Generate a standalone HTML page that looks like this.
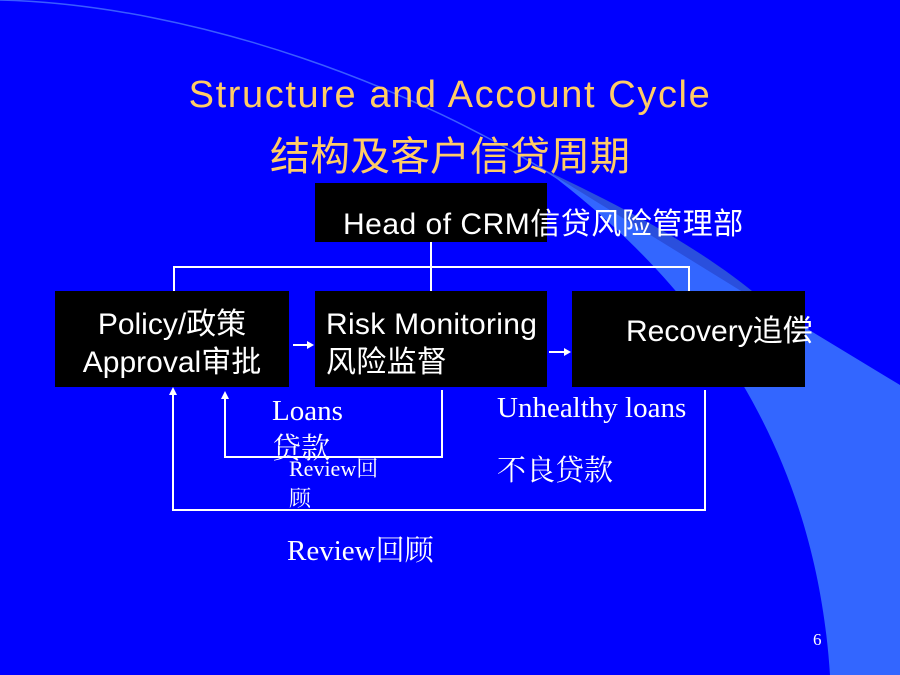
<!DOCTYPE html>
<html><head><meta charset="utf-8"><style>
body{margin:0;width:900px;height:675px;overflow:hidden;background:#0000ff;position:relative;font-family:"Liberation Sans","Noto Sans CJK SC",sans-serif}
.t{position:absolute;white-space:nowrap}
.box{position:absolute;background:#000}
.s{font-family:"Liberation Serif","Noto Serif CJK SC",serif;color:#fff;font-size:29px}
</style></head><body>
<svg width="900" height="675" style="position:absolute;left:0;top:0">
<path d="M545,170 L900,385 L900,675 L830,675 C820,520 760,330 545,170 Z" fill="#3366ff"/>
<path d="M545,170 L780,315 C720,260 650,220 545,170 Z" fill="#2a4fdd"/>
<path d="M0,0 C200,5 420,90 560,180" stroke="#3a5cff" stroke-width="1.5" fill="none"/>
<g stroke="#fff" stroke-width="2" fill="none">
<path d="M431,242 V291 M174,291 V267 H689 V291"/>
<path d="M293,345 H309 M549,352 H566"/>
<path d="M442,390 V457 H225 V398"/>
<path d="M705,390 V510 H173 V394"/>
</g>
<g fill="#fff">
<path d="M314,345 L307,341 L307,349Z"/><path d="M571,352 L564,348 L564,356Z"/>
<path d="M225,391 L221,399 L229,399Z"/><path d="M173,387 L169,395 L177,395Z"/>
</g>
</svg>
<div class="t" style="left:0;width:900px;text-align:center;top:74px;font-size:38px;color:#ffcc66;letter-spacing:1.6px">Structure and Account Cycle</div>
<div class="t" style="left:0;width:900px;text-align:center;top:124px;font-size:40px;color:#ffcc66">结构及客户信贷周期</div>
<div class="box" style="left:315px;top:183px;width:232px;height:59px"></div>
<div class="box" style="left:55px;top:291px;width:234px;height:96px"></div>
<div class="box" style="left:315px;top:291px;width:232px;height:96px"></div>
<div class="box" style="left:572px;top:291px;width:233px;height:96px"></div>
<div class="t" style="left:343px;top:199px;font-size:30px;color:#fff;letter-spacing:0.5px">Head of CRM信贷风险管理部</div>
<div class="t" style="left:55px;width:234px;text-align:center;top:306px;font-size:30px;color:#fff;line-height:38px">Policy/政策<br>Approval审批</div>
<div class="t" style="left:326px;top:306px;font-size:30px;color:#fff;line-height:38px;letter-spacing:0.3px">Risk Monitoring<br>风险监督</div>
<div class="t" style="left:626px;top:306px;font-size:30px;color:#fff">Recovery追偿</div>
<div class="t s" style="left:272px;top:392px;line-height:38px">Loans<br>贷款</div>
<div class="t s" style="left:289px;top:454px;font-size:22px;line-height:30px">Review回<br>顾</div>
<div class="t s" style="left:497px;top:392px">Unhealthy loans</div>
<div class="t s" style="left:497px;top:448px">不良贷款</div>
<div class="t s" style="left:287px;top:528px">Review回顾</div>
<div class="t s" style="left:813px;top:630px;font-size:17px">6</div>
</body></html>
